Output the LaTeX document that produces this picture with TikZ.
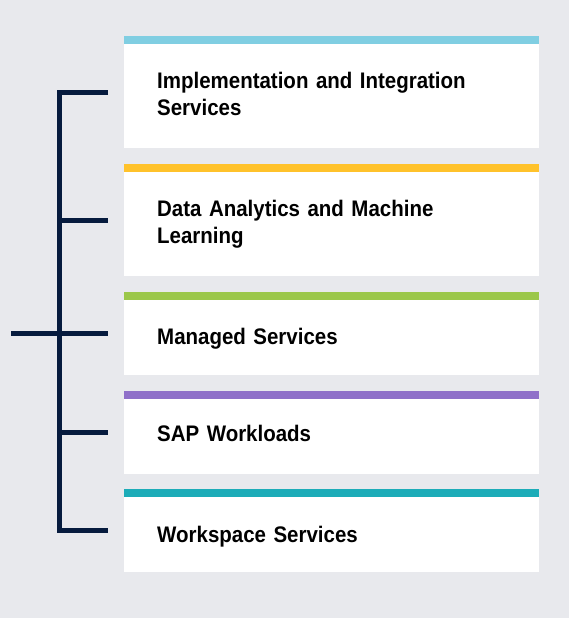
\documentclass[tikz,border=0pt]{standalone}
\usepackage{fontspec}
\setmainfont{Liberation Sans}[FakeStretch=0.91,WordSpace=0.8]
\begin{document}
\definecolor{pagebg}{HTML}{E8E9ED}
\definecolor{navy}{HTML}{061B3E}
\definecolor{barblue}{HTML}{80CEE2}
\definecolor{baryellow}{HTML}{FFC22B}
\definecolor{bargreen}{HTML}{9BC74A}
\definecolor{barpurple}{HTML}{8F70C9}
\definecolor{barteal}{HTML}{1CACB8}
\begin{tikzpicture}[x=1pt,y=-1pt,
  card/.style={draw=none,fill=white,rectangle,minimum width=415pt,inner sep=0pt,outer sep=0pt},
  label/.style={anchor=base west,inner sep=0pt,align=left,text width=380pt,
    font=\bfseries\fontsize{22.5}{26.8}\selectfont,text=black},
  bracket/.style={draw=navy,line width=5pt,line join=miter}]
  % page background
  \fill[pagebg] (0,0) rectangle (569,618);
  \useasboundingbox (0,0) rectangle (569,618);

  % cards (colour bar on top, white body below)
  \node[card,minimum height=112pt] (c1) at (331.5,92) {};
  \node[card,minimum height=112pt] (c2) at (331.5,220) {};
  \node[card,minimum height=83pt] (c3) at (331.5,333.5) {};
  \node[card,minimum height=83pt] (c4) at (331.5,432.5) {};
  \node[card,minimum height=83pt] (c5) at (331.5,530.5) {};
  \fill[barblue]   (c1.north west) rectangle ([yshift=-8pt]c1.north east);
  \fill[baryellow] (c2.north west) rectangle ([yshift=-8pt]c2.north east);
  \fill[bargreen]  (c3.north west) rectangle ([yshift=-8pt]c3.north east);
  \fill[barpurple] (c4.north west) rectangle ([yshift=-8pt]c4.north east);
  \fill[barteal]   (c5.north west) rectangle ([yshift=-8pt]c5.north east);

  % card titles
  \node[label] (t1) at (157,88.3) {Implementation and Integration\\Services};
  \node[label] (t2) at (157,216.5) {Data Analytics and Machine\\Learning};
  \node[label] (t3) at (157,344.3) {Managed Services};
  \node[label] (t4) at (157,441.8) {SAP Workloads};
  \node[label] (t5) at (157,542.5) {Workspace Services};

  % bracket: trunk, ends of the ticks and the root stub
  \foreach \i in {1,...,5} {
    \path (c\i.west) ++(-65,0) coordinate (b\i);
    \path (c\i.west) ++(-16,0) coordinate (e\i);
  }
  \path (c3.west) ++(-113,0) coordinate (root);

  \draw[bracket] (e1) -- (b1) -- (b5) -- (e5);
  \draw[bracket] (b2) -- (e2);
  \draw[bracket] (root) -- (e3);
  \draw[bracket] (b4) -- (e4);
\end{tikzpicture}
\end{document}
